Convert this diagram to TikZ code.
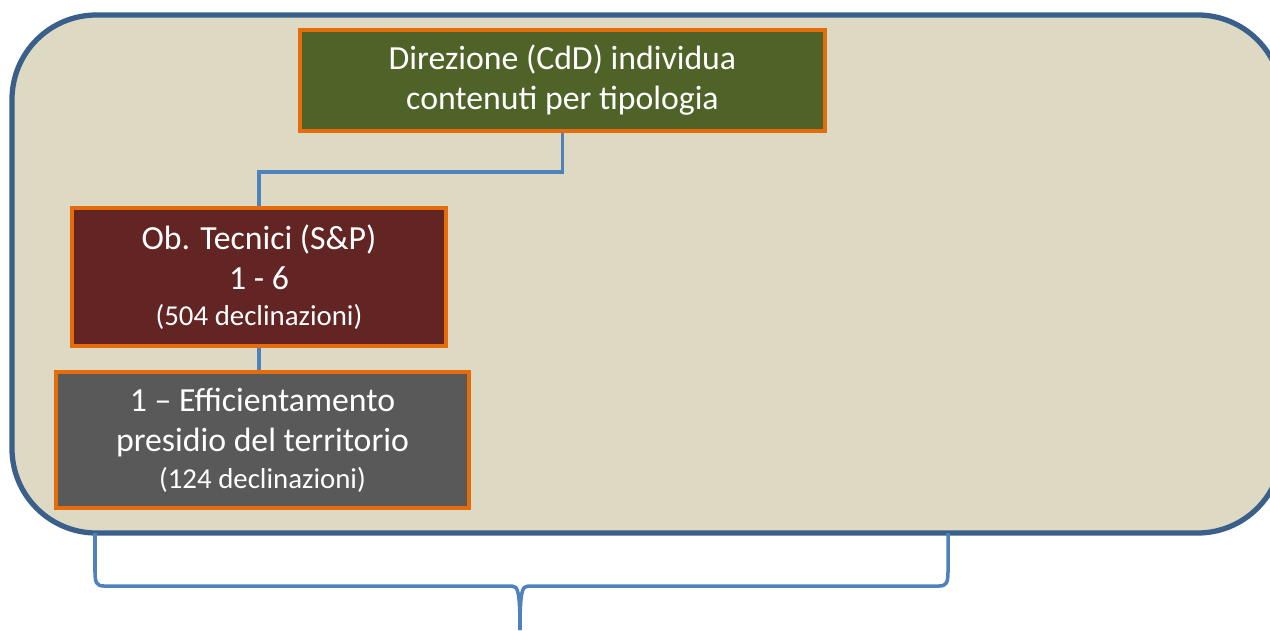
\documentclass[tikz,border=0pt]{standalone}
\usepackage{fontspec}
\setmainfont{Carlito}
\usepackage{tikz}
\usetikzlibrary{positioning}

\definecolor{panelfill}{HTML}{DDD9C3}
\definecolor{paneldraw}{HTML}{3A5F8B}
\definecolor{boxdraw}{HTML}{E46C0A}
\definecolor{linkblue}{HTML}{4F81BD}
\definecolor{dirgreen}{HTML}{4F6228}
\definecolor{tecred}{HTML}{632523}
\definecolor{effgray}{HTML}{595959}

\newcommand{\bigtxt}{\fontsize{9.6}{11.4}\selectfont}
\newcommand{\smalltxt}{\fontsize{8.2}{9.5}\selectfont}

\begin{document}
\begin{tikzpicture}
	[x=0.01cm, y=-0.01cm,
	 box/.style={draw=boxdraw, line width=1.1pt, text=white, align=center,
	   inner sep=0pt, font=\bigtxt},
	 link/.style={draw=linkblue, line width=1pt}]
   \useasboundingbox (0,0) rectangle (1270,630);
   \clip (0,0) rectangle (1270,630);
   % background panel
   \draw[fill=panelfill, draw=paneldraw, line width=1.5pt, rounded corners=24pt]
     (12,15) rectangle (1282,533);
   % boxes
   \node[box, fill=dirgreen, minimum width=5.25cm, minimum height=1.01cm] (dir)
     at (562.5,80.5) {Direzione (CdD) individua\\contenuti per tipologia};
   \node[box, fill=tecred, minimum width=3.74cm, minimum height=1.38cm,
     text depth=0.04cm] (tec)
     at (259,277) {Ob. Tecnici (S\&P)\\1 - 6\\[-1pt]{\smalltxt(504 declinazioni)}};
   \node[box, fill=effgray, minimum width=4.13cm, minimum height=1.36cm,
     text depth=0.04cm] (eff)
     at (262.5,440) {1 -- Efficientamento\\presidio del territorio\\[-1pt]{\smalltxt(124 declinazioni)}};
   % connectors
   \draw[link] (dir.south) -- ++(0,39) -| (tec.north);
   \draw[link] (tec.south) -- (tec.south |- eff.north);
   % brace
   \draw[link] (95,533) -- (95,572) .. controls (95,583) and (97,586) .. (104,586)
     -- (512,586) .. controls (518,586) and (520,592) .. (520,630);
   \draw[link] (520,630) .. controls (520,592) and (522,586) .. (528,586)
     -- (939,586) .. controls (946,586) and (948,583) .. (948,572) -- (948,533);
\end{tikzpicture}
\end{document}
